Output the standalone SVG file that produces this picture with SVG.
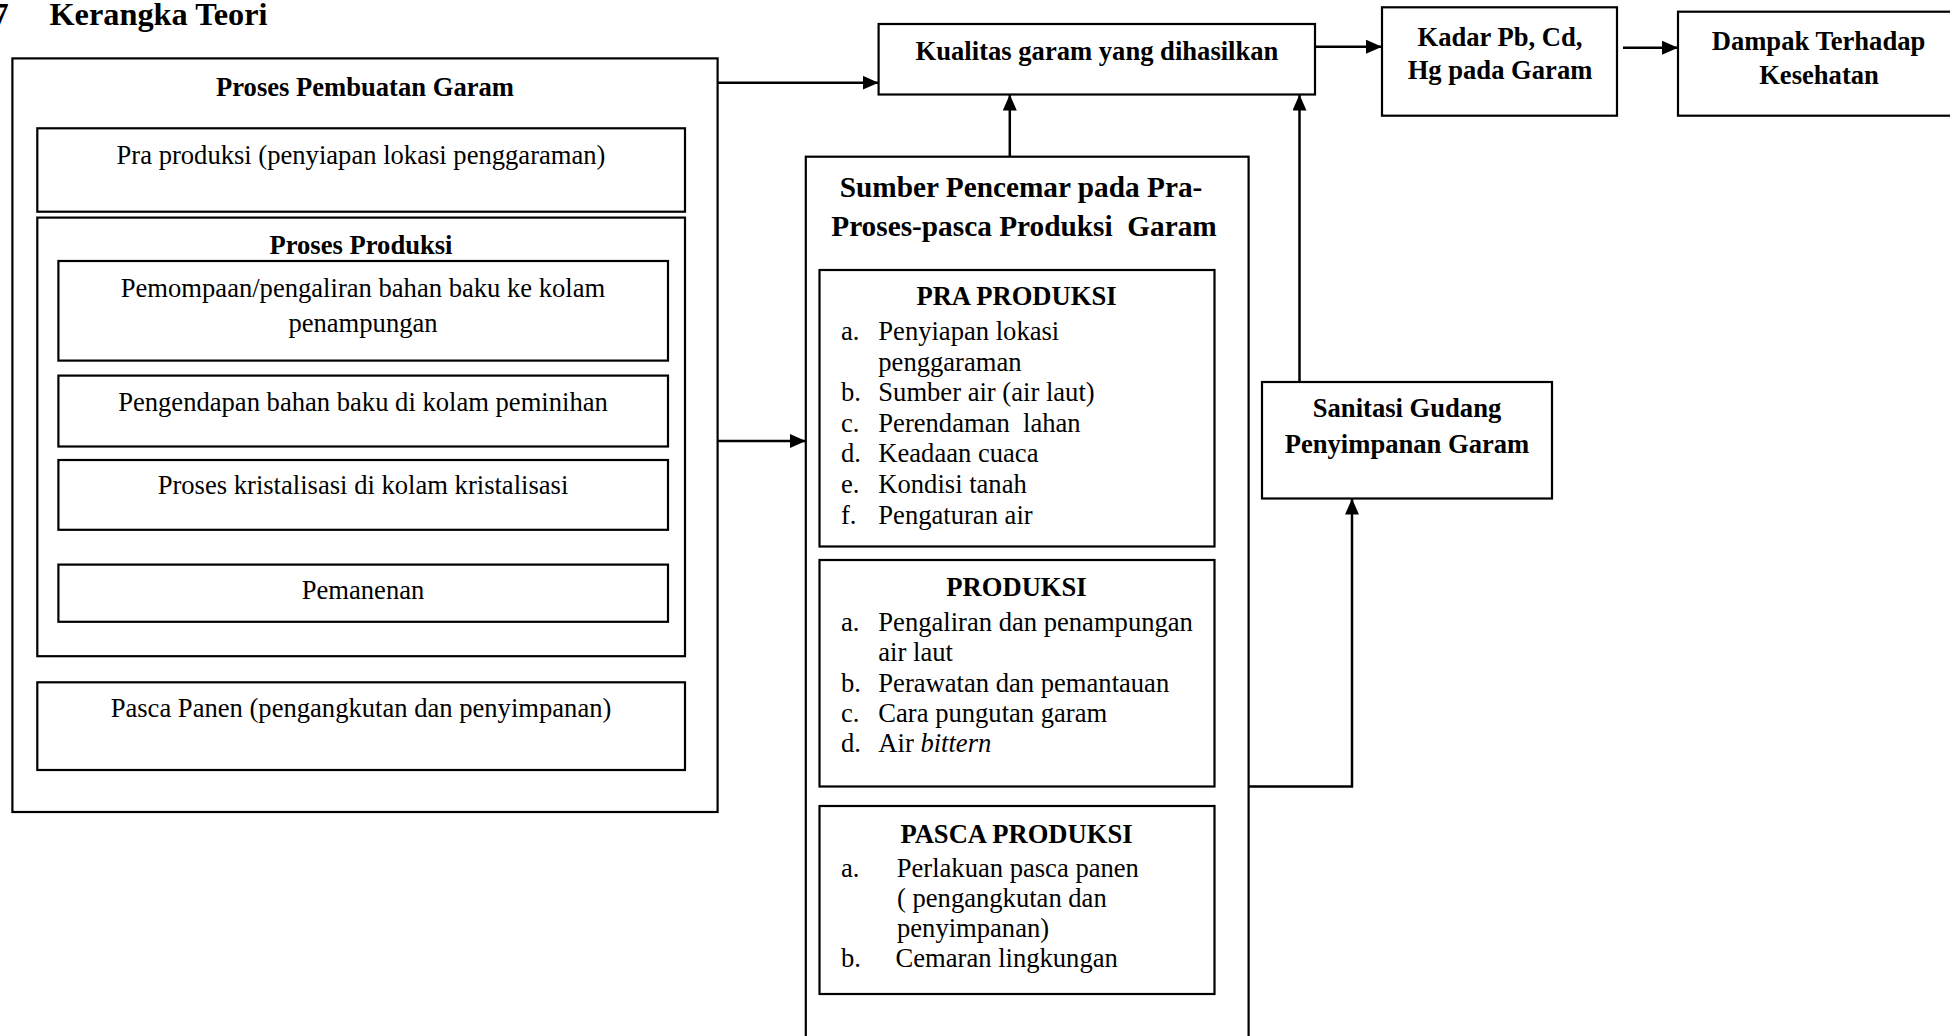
<svg xmlns="http://www.w3.org/2000/svg" width="1950" height="1036" viewBox="0 0 1950 1036">
<style>
rect { fill: none; stroke: #000; stroke-width: 2.2; }
text { font-family: "Liberation Serif", "Times New Roman", serif; font-size: 26.6px; fill: #000; }
.b { font-weight: bold; }
.c { text-anchor: middle; }
.h { font-size: 29.3px; }
.title { font-size: 32.3px; font-weight: bold; }
.conn path { fill: none; stroke: #000; stroke-width: 2.5; }
</style>
<defs>
<marker id="arr" markerUnits="userSpaceOnUse" markerWidth="16" markerHeight="14" refX="16" refY="7" orient="auto" viewBox="0 0 16 14">
<path d="M0,0 L16,7 L0,14 z" fill="#000"/>
</marker>
</defs>
<rect x="0" y="0" width="1950" height="1036" style="fill:#fff;stroke:none"/>

<g id="heading">
<text class="title" x="-7.5" y="24.5">7</text>
<text class="title" x="49.5" y="24.5">Kerangka Teori</text>
</g>

<g id="proses-pembuatan-garam">
<rect x="12.4" y="58.4" width="705.2" height="753.6"/>
<text class="b c" x="365" y="96">Proses Pembuatan Garam</text>
</g>
<g id="pra-produksi-lokasi">
<rect x="37.3" y="128.3" width="647.7" height="83.4"/>
<text class="c" x="361" y="164">Pra produksi (penyiapan lokasi penggaraman)</text>
</g>
<g id="proses-produksi">
<rect x="37.3" y="217.6" width="647.7" height="438.6"/>
<text class="b c" x="361" y="253.5">Proses Produksi</text>
</g>
<g id="pemompaan">
<rect x="58.4" y="261" width="609.6" height="99.6"/>
<text class="c" x="363" y="297">Pemompaan/pengaliran bahan baku ke kolam</text>
<text class="c" x="363" y="331.5">penampungan</text>
</g>
<g id="pengendapan">
<rect x="58.4" y="375.6" width="609.6" height="70.9"/>
<text class="c" x="363" y="410.7">Pengendapan bahan baku di kolam peminihan</text>
</g>
<g id="kristalisasi">
<rect x="58.4" y="460" width="609.6" height="69.8"/>
<text class="c" x="363" y="494.3">Proses kristalisasi di kolam kristalisasi</text>
</g>
<g id="pemanenan">
<rect x="58.4" y="564.6" width="609.6" height="57.2"/>
<text class="c" x="363" y="599.3">Pemanenan</text>
</g>
<g id="pasca-panen">
<rect x="37.3" y="682.3" width="647.7" height="87.7"/>
<text class="c" x="361" y="717.3">Pasca Panen (pengangkutan dan penyimpanan)</text>
</g>

<g id="kualitas-garam">
<rect x="878.6" y="24" width="436.4" height="70.5"/>
<text class="b c" x="1097" y="60">Kualitas garam yang dihasilkan</text>
</g>
<g id="kadar">
<rect x="1382" y="7.3" width="235" height="108.4"/>
<text class="b c" x="1500" y="45.5">Kadar Pb, Cd,</text>
<text class="b c" x="1500" y="79">Hg pada Garam</text>
</g>
<g id="dampak">
<rect x="1678" y="11.7" width="290" height="104"/>
<text class="b c" x="1818.5" y="50">Dampak Terhadap</text>
<text class="b c" x="1819" y="83.5">Kesehatan</text>
</g>

<g id="sumber-pencemar">
<rect x="805.8" y="156.7" width="442.8" height="900"/>
<text class="b c h" x="1021" y="197">Sumber Pencemar pada Pra-</text>
<text class="b c h" x="1024" y="235.7" xml:space="preserve">Proses-pasca Produksi  Garam</text>
</g>
<g id="pra-produksi">
<rect x="819.5" y="270" width="395" height="276.5"/>
<text class="b c" x="1016.5" y="305">PRA PRODUKSI</text>
<text x="841" y="340">a.</text><text x="878.3" y="340">Penyiapan lokasi</text>
<text x="878.3" y="370.6">penggaraman</text>
<text x="841" y="401.2">b.</text><text x="878.3" y="401.2">Sumber air (air laut)</text>
<text x="841" y="431.8">c.</text><text x="878.3" y="431.8" xml:space="preserve">Perendaman  lahan</text>
<text x="841" y="462.4">d.</text><text x="878.3" y="462.4">Keadaan cuaca</text>
<text x="841" y="493">e.</text><text x="878.3" y="493">Kondisi tanah</text>
<text x="841" y="523.6">f.</text><text x="878.3" y="523.6">Pengaturan air</text>
</g>
<g id="produksi">
<rect x="819.5" y="560" width="395" height="226.5"/>
<text class="b c" x="1016.5" y="596">PRODUKSI</text>
<text x="841" y="630.7">a.</text><text x="878.3" y="630.7">Pengaliran dan penampungan</text>
<text x="878.3" y="660.7">air laut</text>
<text x="841" y="691.7">b.</text><text x="878.3" y="691.7">Perawatan dan pemantauan</text>
<text x="841" y="721.7">c.</text><text x="878.3" y="721.7">Cara pungutan garam</text>
<text x="841" y="752.3">d.</text><text x="878.3" y="752.3">Air <tspan font-style="italic">bittern</tspan></text>
</g>
<g id="pasca-produksi">
<rect x="819.5" y="806" width="395" height="188"/>
<text class="b c" x="1016.5" y="843.3">PASCA PRODUKSI</text>
<text x="841" y="877.3">a.</text><text x="896.7" y="877.3">Perlakuan pasca panen</text>
<text x="897" y="906.7">( pengangkutan dan</text>
<text x="897" y="936.5">penyimpanan)</text>
<text x="841" y="967">b.</text><text x="895.5" y="967">Cemaran lingkungan</text>
</g>

<g id="sanitasi-gudang">
<rect x="1262" y="382" width="290" height="116.5"/>
<text class="b c" x="1407" y="417">Sanitasi Gudang</text>
<text class="b c" x="1407" y="452.7">Penyimpanan Garam</text>
</g>

<g id="connectors" class="conn">
<path d="M717.6,82.7 H878.6" marker-end="url(#arr)"/>
<path d="M717.6,441 H805.8" marker-end="url(#arr)"/>
<path d="M1009.8,156.7 V94.5" marker-end="url(#arr)"/>
<path d="M1299.5,382 V94.5" marker-end="url(#arr)"/>
<path d="M1315,46.7 H1382" marker-end="url(#arr)"/>
<path d="M1623,47.7 H1678" marker-end="url(#arr)"/>
<path d="M1248.6,786.5 H1352 V498.5" marker-end="url(#arr)"/>
</g>
</svg>
